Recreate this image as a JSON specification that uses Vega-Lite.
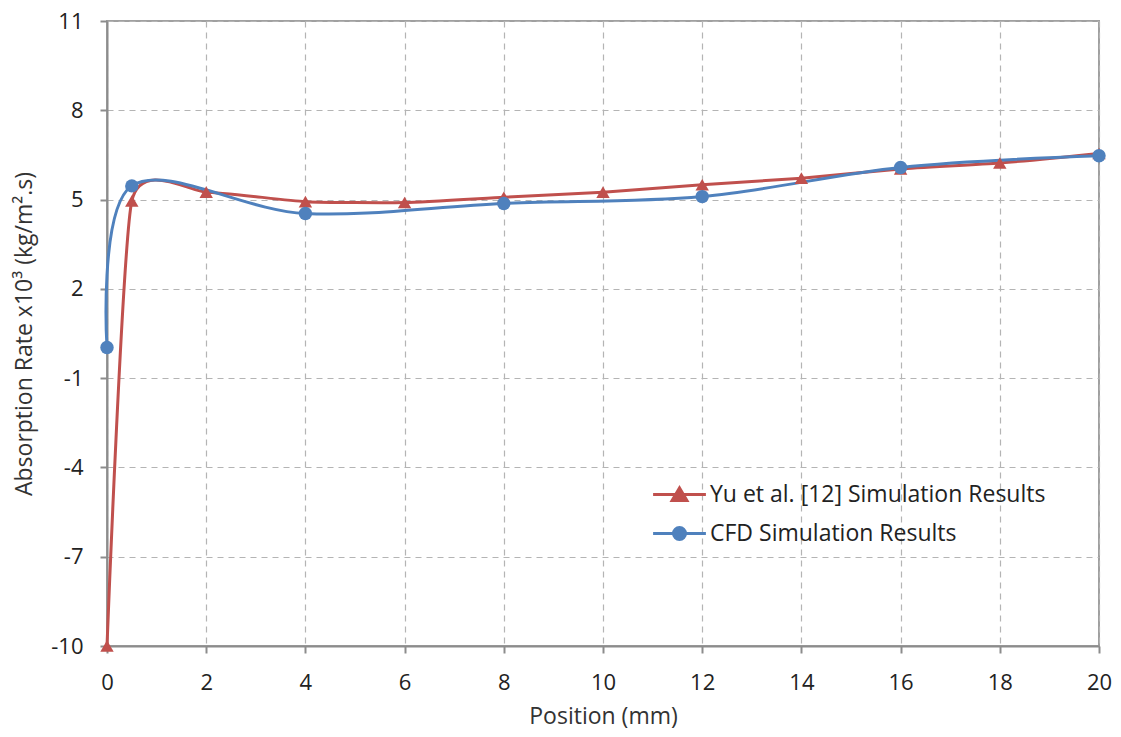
{
  "$schema": "https://vega.github.io/schema/vega-lite/v6.json",
  "width": 992,
  "height": 625,
  "autosize": "none",
  "padding": {"left": 107, "top": 21, "right": 22, "bottom": 91},
  "background": "white",
  "config": {
    "font": "Open Sans",
    "view": {"stroke": "#a0a0a0", "strokeWidth": 2},
    "axis": {
      "domainColor": "#8c8c8c",
      "domainWidth": 2,
      "tickColor": "#8c8c8c",
      "tickWidth": 2,
      "tickSize": 7,
      "gridColor": "#b4b4b4",
      "gridDash": [6, 5],
      "gridWidth": 1.2,
      "labelFont": "Open Sans",
      "labelFontSize": 22,
      "labelColor": "#222222",
      "labelFlush": false,
      "titleFont": "Open Sans",
      "titleFontSize": 23,
      "titleFontWeight": "normal",
      "titleColor": "#333333"
    }
  },
  "data": {
    "values": [
      {"series": "Yu et al. [12] Simulation Results", "pos": 0, "rate": -10},
      {"series": "Yu et al. [12] Simulation Results", "pos": 0.5, "rate": 4.95},
      {"series": "Yu et al. [12] Simulation Results", "pos": 2, "rate": 5.25},
      {"series": "Yu et al. [12] Simulation Results", "pos": 4, "rate": 4.93},
      {"series": "Yu et al. [12] Simulation Results", "pos": 6, "rate": 4.9},
      {"series": "Yu et al. [12] Simulation Results", "pos": 8, "rate": 5.08},
      {"series": "Yu et al. [12] Simulation Results", "pos": 10, "rate": 5.25},
      {"series": "Yu et al. [12] Simulation Results", "pos": 12, "rate": 5.5},
      {"series": "Yu et al. [12] Simulation Results", "pos": 14, "rate": 5.72},
      {"series": "Yu et al. [12] Simulation Results", "pos": 16, "rate": 6.03},
      {"series": "Yu et al. [12] Simulation Results", "pos": 18, "rate": 6.23},
      {"series": "Yu et al. [12] Simulation Results", "pos": 20, "rate": 6.55},
      {"series": "CFD Simulation Results", "pos": 0, "rate": 0.03},
      {"series": "CFD Simulation Results", "pos": 0.5, "rate": 5.46},
      {"series": "CFD Simulation Results", "pos": 4, "rate": 4.53},
      {"series": "CFD Simulation Results", "pos": 8, "rate": 4.87},
      {"series": "CFD Simulation Results", "pos": 12, "rate": 5.1},
      {"series": "CFD Simulation Results", "pos": 16, "rate": 6.08},
      {"series": "CFD Simulation Results", "pos": 20, "rate": 6.47}
    ]
  },
  "encoding": {
    "x": {
      "field": "pos",
      "type": "quantitative",
      "scale": {"domain": [0, 20], "nice": false, "zero": false},
      "axis": {"values": [0, 2, 4, 6, 8, 10, 12, 14, 16, 18, 20], "title": "Position (mm)", "titlePadding": 12, "labelPadding": 19}
    },
    "y": {
      "field": "rate",
      "type": "quantitative",
      "scale": {"domain": [-10, 11], "nice": false, "zero": false},
      "axis": {
        "values": [-10, -7, -4, -1, 2, 5, 8, 11],
        "labelExpr": "'' + datum.value",
        "title": "Absorption Rate x10³  (kg/m².s)",
        "titlePadding": 14,
        "labelPadding": 17
      }
    },
    "color": {
      "field": "series",
      "type": "nominal",
      "scale": {
        "domain": ["Yu et al. [12] Simulation Results", "CFD Simulation Results"],
        "range": ["#c0504d", "#4f81bd"]
      },
      "legend": {
        "title": null,
        "orient": "none",
        "legendX": 551,
        "legendY": 452,
        "padding": 0,
        "labelFontSize": 23,
        "labelFont": "Open Sans",
        "labelColor": "#222222",
        "labelLimit": 0,
        "labelOffset": 9,
        "rowPadding": 5,
        "symbolSize": 1600,
        "symbolStrokeWidth": 3,
        "encode": {
          "symbols": {
            "update": {
              "shape": {"signal": "datum.value === 'CFD Simulation Results' ? 'M-1.32,0H1.32M0.3,0A0.3,0.3 0 1,1 -0.3,0A0.3,0.3 0 1,1 0.3,0Z' : 'M-1.32,0H1.32M-0.37,0.3L0,-0.33L0.37,0.3Z'"},
              "fill": {"scale": "color", "field": "value"},
              "stroke": {"scale": "color", "field": "value"},
              "fillOpacity": {"value": 1},
              "strokeOpacity": {"value": 1},
              "strokeWidth": {"value": 3}
            }
          }
        }
      }
    }
  },
  "layer": [
    {
      "transform": [{"filter": "datum.series === 'Yu et al. [12] Simulation Results'"}],
      "mark": {"type": "line", "interpolate": "cardinal", "tension": 0.45, "strokeWidth": 3}
    },
    {
      "transform": [{"filter": "datum.series === 'CFD Simulation Results'"}],
      "mark": {"type": "line", "interpolate": "cardinal", "tension": 0, "strokeWidth": 3}
    },
    {
      "transform": [{"filter": "datum.series === 'Yu et al. [12] Simulation Results'"}],
      "mark": {"type": "point", "shape": "triangle-up", "filled": true, "opacity": 1, "size": 180}
    },
    {
      "transform": [{"filter": "datum.series === 'CFD Simulation Results'"}],
      "mark": {"type": "point", "shape": "circle", "filled": true, "opacity": 1, "size": 180}
    }
  ]
}
